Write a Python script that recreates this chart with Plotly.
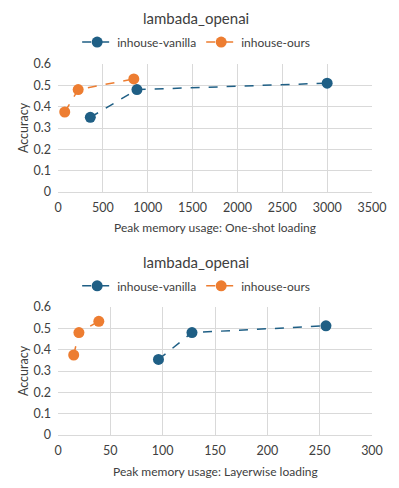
import plotly.graph_objects as go
from plotly.subplots import make_subplots

# one-shot loading (top chart)
oneshot_vanilla_x = [360, 880, 3000]
oneshot_vanilla_y = [0.35, 0.48, 0.51]
oneshot_ours_x = [75, 225, 845]
oneshot_ours_y = [0.375, 0.48, 0.53]

# layerwise loading (bottom chart)
layer_vanilla_x = [96, 128, 256]
layer_vanilla_y = [0.354, 0.48, 0.512]
layer_ours_x = [15, 20, 39]
layer_ours_y = [0.375, 0.48, 0.533]

BLUE = "#1F5F85"
ORANGE = "#ED7D31"
FONT = "Lato, Open Sans, sans-serif"
TXT = "#404040"

fig = make_subplots(rows=2, cols=1, vertical_spacing=0.31)

def add(x, y, name, color, row, legend):
    fig.add_trace(go.Scatter(
        x=x, y=y, name=name, mode="lines+markers",
        line=dict(color=color, width=1.5, dash="dash"),
        marker=dict(color=color, size=11),
        legend=legend,
    ), row=row, col=1)

add(oneshot_vanilla_x, oneshot_vanilla_y, "inhouse-vanilla", BLUE, 1, "legend")
add(oneshot_ours_x, oneshot_ours_y, "inhouse-ours", ORANGE, 1, "legend")
add(layer_vanilla_x, layer_vanilla_y, "inhouse-vanilla", BLUE, 2, "legend2")
add(layer_ours_x, layer_ours_y, "inhouse-ours", ORANGE, 2, "legend2")

axis_font = dict(family=FONT, size=12.5, color=TXT)
grid = "#D9D9D9"

fig.update_xaxes(showgrid=True, gridcolor=grid, zeroline=False,
                 showline=True, linecolor=grid, ticks="", ticklabelstandoff=4,
                 tickfont=axis_font)
fig.update_yaxes(range=[0, 0.6], dtick=0.1, showgrid=True, gridcolor=grid,
                 zeroline=False, showline=False, tickformat="~g", ticklabelstandoff=6,
                 tickfont=axis_font, title_font=dict(family=FONT, size=12.5, color=TXT),
                 title_text="Accuracy", title_standoff=2)
fig.update_xaxes(range=[0, 3500], dtick=500, row=1, col=1)
fig.update_xaxes(range=[0, 300], dtick=50, row=2, col=1)
fig.update_yaxes(domain=[0.655, 1], row=1, col=1)
fig.update_yaxes(domain=[0, 0.345], row=2, col=1)

def label(text, y, size):
    return dict(text=text, x=0.5, y=y, xref="paper", yref="paper",
                xanchor="center", yanchor="middle", showarrow=False,
                font=dict(family=FONT, size=size, color=TXT))

legend_common = dict(orientation="h", xanchor="center", yanchor="middle",
                     font=dict(family=FONT, size=12, color=TXT),
                     bgcolor="rgba(0,0,0,0)", itemwidth=30, tracegroupgap=0)
fig.update_layout(
    width=391, height=480,
    margin=dict(l=50, r=21, t=56, b=53),
    plot_bgcolor="white", paper_bgcolor="white",
    legend=dict(x=0.44, y=1.059, **legend_common),
    legend2=dict(x=0.44, y=0.402, **legend_common),
    annotations=[
        dict(label("lambada_openai", 1.124, 15), x=0.44),
        dict(label("lambada_openai", 0.466, 15), x=0.44),
        label("Peak memory usage: One-shot loading", 0.558, 12),
        label("Peak memory usage: Layerwise loading", -0.0997, 12),
    ],
)

fig.write_html("out.html")
